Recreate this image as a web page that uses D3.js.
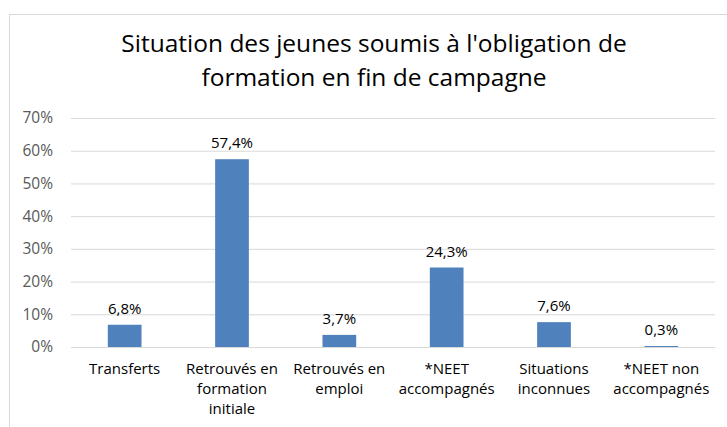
<!DOCTYPE html>
<html>
<head>
<meta charset="utf-8">
<script src="https://cdn.jsdelivr.net/npm/d3@7"></script>
<style>
  body { margin: 0; background: #fff; }
  text { font-family: "Open Sans", "Liberation Sans", sans-serif; font-variant-ligatures: none; }
</style>
</head>
<body>
<div id="chart"></div>
<script>
// donnees
var categories = [
  ["Transferts"],
  ["Retrouvés en", "formation", "initiale"],
  ["Retrouvés en", "emploi"],
  ["*NEET", "accompagnés"],
  ["Situations", "inconnues"],
  ["*NEET non", "accompagnés"]
];
var values = [0.068, 0.574, 0.037, 0.243, 0.076, 0.003];
var valueLabels = ["6,8%", "57,4%", "3,7%", "24,3%", "7,6%", "0,3%"];
var yTicks = [0, 0.1, 0.2, 0.3, 0.4, 0.5, 0.6, 0.7];
var titleLines = ["Situation des jeunes soumis à l'obligation de", "formation en fin de campagne"];

var W = 727, H = 427;
var margin = { top: 118, bottom: 80, left: 71, right: 12 };
var width = W - margin.left - margin.right;
var height = H - margin.top - margin.bottom;

var svg = d3.select("#chart").append("svg")
  .attr("width", W)
  .attr("height", H);

// cadre du graphique (coupe a droite et en bas)
svg.append("rect")
  .attr("x", 9.5).attr("y", 14.5)
  .attr("width", W + 20).attr("height", H + 20)
  .attr("fill", "none")
  .attr("stroke", "#d9d9d9");

// titre
svg.append("g").selectAll("text")
  .data(titleLines)
  .join("text")
  .attr("x", 374)
  .attr("y", (d, i) => 52 + i * 34)
  .attr("text-anchor", "middle")
  .attr("font-size", 24.5)
  .attr("fill", "#000")
  .text(d => d);

var g = svg.append("g").attr("transform", `translate(${margin.left},${margin.top})`);

// echelles
var xscale = d3.scaleBand()
  .domain(d3.range(values.length))
  .range([0, width])
  .paddingInner(0.686)
  .paddingOuter(0.343);
var yscale = d3.scaleLinear().domain([0, 0.7]).range([height, 0]);

// axe y + grille
var yaxis = d3.axisLeft(yscale)
  .tickValues(yTicks)
  .tickFormat(d3.format(".0%"))
  .tickSize(-width)
  .tickPadding(18);
var g_yaxis = g.append("g").call(yaxis);
g_yaxis.select(".domain").remove();
g_yaxis.selectAll(".tick line").attr("stroke", "#d9d9d9").attr("stroke-width", 1);
g_yaxis.selectAll(".tick text")
  .attr("font-size", 15.5)
  .attr("fill", "#595959")
  .attr("font-family", "'Open Sans', sans-serif");

// barres
g.selectAll("rect.bar")
  .data(values)
  .join("rect")
  .attr("class", "bar")
  .attr("x", (d, i) => xscale(i))
  .attr("width", xscale.bandwidth())
  .attr("y", d => yscale(d))
  .attr("height", d => height - yscale(d))
  .attr("fill", "#4f81bd");

// etiquettes de valeurs
g.selectAll("text.val")
  .data(values)
  .join("text")
  .attr("class", "val")
  .attr("x", (d, i) => xscale(i) + xscale.bandwidth() / 2)
  .attr("y", d => yscale(d) - 11)
  .attr("text-anchor", "middle")
  .attr("font-size", 15)
  .attr("fill", "#000")
  .text((d, i) => valueLabels[i]);

// axe x : categories sur plusieurs lignes
var xlab = g.append("g").selectAll("text")
  .data(categories)
  .join("text")
  .attr("x", (d, i) => xscale(i) + xscale.bandwidth() / 2)
  .attr("y", height + 27)
  .attr("text-anchor", "middle")
  .attr("font-size", 15)
  .attr("fill", "#000");
xlab.selectAll("tspan")
  .data(d => d)
  .join("tspan")
  .attr("x", function() { return this.parentNode.getAttribute("x"); })
  .attr("dy", (d, i) => i === 0 ? 0 : 20)
  .text(d => d);
</script>
</body>
</html>
